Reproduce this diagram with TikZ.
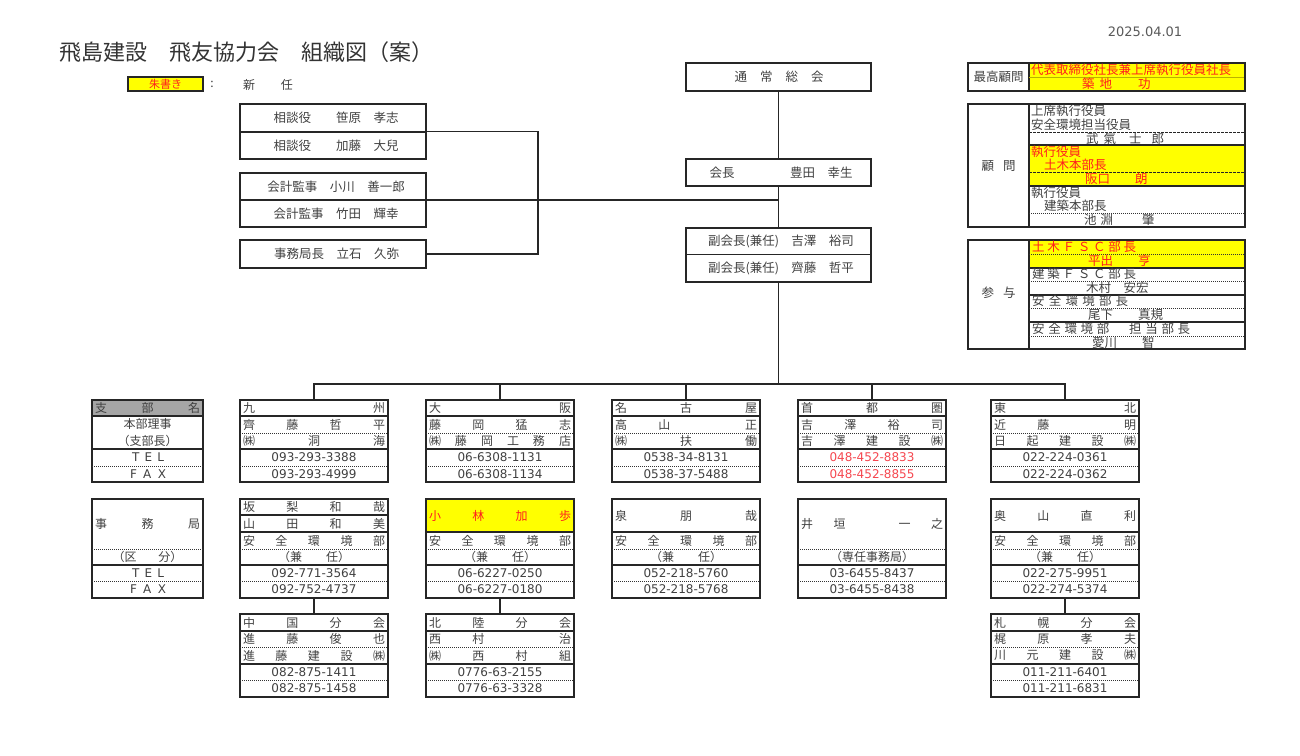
\documentclass[tikz,border=0pt]{standalone}
\usepackage{fontspec}
\setmainfont{Noto Sans CJK JP}
\newfontfamily\numfont{DejaVu Sans}
\definecolor{ink}{HTML}{404040}
\definecolor{akared}{HTML}{FF1E1E}
\definecolor{telred}{HTML}{F5474F}
\definecolor{kiiro}{HTML}{FFFF00}
\definecolor{hdgray}{HTML}{A6A6A6}
\makeatletter
\newcommand\spreadchars[2]{\hbox to #1pt{\let\spr@sep\relax\@tfor\spr@c:=#2\do{\spr@sep\spr@c\let\spr@sep\hfill}}}
\makeatother

\begin{document}
\begin{tikzpicture}[x=1pt,y=-1pt,
	boxframe/.style={draw=black!85,line width=1.5pt,inner sep=0pt,outer sep=0pt,anchor=north west},
	celltext/.style={inner sep=0pt,text=ink,font=\fontsize{12}{14}\selectfont},
	bigtext/.style={celltext,font=\fontsize{12.5}{14}\selectfont},
	telno/.style={inner sep=0pt,text=ink,font=\numfont\fontsize{12}{14}\selectfont},
	solidrule/.style={line width=1.1pt,draw=black!85},
	dotrule/.style={line width=1pt,draw=black!80,dash pattern=on 1pt off 1pt},
	dashrule/.style={line width=1pt,draw=black!85,dash pattern=on 2.5pt off 1.5pt},
	linkline/.style={line width=1.3pt,draw=black!85}]
	\useasboundingbox (0,0) rectangle (1300,755);
	%title + date
		\node[celltext,anchor=west,font=\fontsize{22}{26}\selectfont,text=black!80] (title) at (59,52) {飛島建設　飛友協力会　組織図（案）};
		\node[telno,font=\numfont\fontsize{13}{15}\selectfont,text=black!65] (date) at (1145,32) {2025.04.01};
	%legend
		\node[boxframe,fill=kiiro,line width=1.2pt,minimum width=75pt,minimum height=14pt,text=akared,font=\fontsize{11}{12}\selectfont] (legbox) at (128,77) {朱書き};
		\node[celltext] (legcolon) at (212,84) {:};
		\node[celltext] (legnew) at (268,85) {新\hspace{26pt}任};
	%advisers
		\node[boxframe,minimum width=186pt,minimum height=55pt] (sodan) at (240,104) {};
		\draw[solidrule] (240,132) -- (426,132);
		\node[bigtext] (sodan1) at (336,118) {相談役　　笹原　孝志};
		\node[bigtext] (sodan2) at (336,145.5) {相談役　　加藤　大兒};
		\node[boxframe,minimum width=186pt,minimum height=54pt] (kansa) at (240,173) {};
		\draw[solidrule] (240,200) -- (426,200);
		\node[bigtext] (kansa1) at (336,186.5) {会計監事　小川　善一郎};
		\node[bigtext] (kansa2) at (336,213.5) {会計監事　竹田　輝幸};
		\node[boxframe,minimum width=186pt,minimum height=28pt] (jimu) at (240,240) {};
		\node[bigtext] (jimu1) at (336.5,254) {事務局長　立石　久弥};
	%center column
		\node[boxframe,minimum width=185pt,minimum height=28pt] (sokai) at (686,63) {};
		\node[bigtext] (sokai1) at (779,77) {\spreadchars{89}{通常総会}};
		\node[boxframe,minimum width=185pt,minimum height=27pt] (kaicho) at (686,159) {};
		\node[bigtext] (kaicho1) at (781,172.5) {\hbox to 143pt{会長\hfill 豊田　幸生}};
		\node[boxframe,minimum width=185pt,minimum height=54pt] (fuku) at (686,228) {};
		\draw[solidrule] (686,254.5) -- (871,254.5);
		\node[bigtext] (fuku1) at (781,241) {副会長(兼任)　吉澤　裕司};
		\node[bigtext] (fuku2) at (781,268) {副会長(兼任)　齊藤　哲平};
	%top right: saiko komon
		\fill[kiiro] (1029,63) rectangle (1245,91);
		\node[boxframe,minimum width=277pt,minimum height=28pt] (saiko) at (968,63) {};
		\draw[solidrule] (1029,63) -- (1029,91);
		\draw[line width=0.6pt,olive!60!yellow] (1029,77) -- (1244,77);
		\node[bigtext] (saiko0) at (998.5,77) {最高顧問};
		\node[bigtext,anchor=west,text=akared] (saiko1) at (1031,70) {代表取締役社長兼上席執行役員社長};
		\node[bigtext,anchor=west,text=akared] (saiko2) at (1082,84) {築\hspace{5pt}地\hspace{26pt}功};
	%komon
		\fill[kiiro] (1029,145) rectangle (1245,186);
		\node[boxframe,minimum width=277pt,minimum height=123pt] (komon) at (968,104) {};
		\draw[solidrule] (1029,104) -- (1029,227) (1029,145) -- (1245,145) (1029,186) -- (1245,186);
		\draw[dashrule] (1029,132) -- (1245,132) (1029,172) -- (1245,172);
		\draw[dotrule] (1029,213) -- (1245,213);
		\node[bigtext] (komon0) at (998.5,166) {顧\hspace{9pt}問};
		\node[bigtext,anchor=west] (komon1) at (1031,111) {上席執行役員};
		\node[bigtext,anchor=west] (komon2) at (1031,124.5) {安全環境担当役員};
		\node[bigtext,anchor=west] (komon3) at (1086,138.5) {武\hspace{5pt}氣\hspace{13pt}士\hspace{10pt}郎};
		\node[bigtext,anchor=west,text=akared] (komon4) at (1031,152) {執行役員};
		\node[bigtext,anchor=west,text=akared] (komon5) at (1044,165) {土木本部長};
		\node[bigtext,anchor=west,text=akared] (komon6) at (1085,179) {阪口　　朗};
		\node[bigtext,anchor=west] (komon7) at (1031,193) {執行役員};
		\node[bigtext,anchor=west] (komon8) at (1044,206) {建築本部長};
		\node[bigtext,anchor=west] (komon9) at (1084,220) {池\hspace{4pt}淵\hspace{29pt}肇};
	%sanyo
		\fill[kiiro] (1029,240) rectangle (1245,268);
		\node[boxframe,minimum width=277pt,minimum height=109pt] (sanyo) at (968,240) {};
		\draw[solidrule] (1029,240) -- (1029,349) (1029,268) -- (1245,268) (1029,295) -- (1245,295) (1029,322) -- (1245,322);
		\draw[dotrule] (1029,254) -- (1245,254) (1029,281) -- (1245,281) (1029,308) -- (1245,308) (1029,336) -- (1245,336);
		\node[bigtext] (sanyo0) at (998.5,293) {参\hspace{9pt}与};
		\node[bigtext,anchor=west,text=akared] (sanyo1) at (1032,247) {\spreadchars{104}{土木ＦＳＣ部長}};
		\node[bigtext,anchor=west,text=akared] (sanyo2) at (1088,261) {平出　　亨};
		\node[bigtext,anchor=west] (sanyo3) at (1032,274) {\spreadchars{104}{建築ＦＳＣ部長}};
		\node[bigtext,anchor=west] (sanyo4) at (1086,288) {木村　安宏};
		\node[bigtext,anchor=west] (sanyo5) at (1032,301) {\spreadchars{96}{安全環境部長}};
		\node[bigtext,anchor=west] (sanyo6) at (1088,315) {尾下　　真規};
		\node[bigtext,anchor=west] (sanyo7) at (1032,329) {\spreadchars{158}{安全環境部　担当部長}};
		\node[bigtext,anchor=west] (sanyo8) at (1092,343) {愛川　　智};
	%legend boxes (left)
		\fill[hdgray] (92,400) rectangle (203,416);
		\node[boxframe,minimum width=111pt,minimum height=82pt] (leg1) at (92,400) {};
		\draw[solidrule] (92,416) -- (203,416) (92,449) -- (203,449);
		\draw[dotrule] (92,466) -- (203,466);
		\node[celltext] (leg1a) at (147.5,408) {\spreadchars{105}{支部名}};
		\node[celltext] (leg1b) at (147.5,424) {本部理事};
		\node[celltext] (leg1c) at (147.5,440.5) {（支部長）};
		\node[telno] (leg1d) at (148,457.5) {\spreadchars{32}{TEL}};
		\node[telno] (leg1e) at (148,474) {\spreadchars{36}{FAX}};
		\node[boxframe,minimum width=111pt,minimum height=99pt] (leg2) at (92,499) {};
		\draw[solidrule] (92,565) -- (203,565);
		\draw[dotrule] (92,549) -- (203,549) (92,581) -- (203,581);
		\node[celltext] (leg2a) at (147.5,524) {\spreadchars{105}{事務局}};
		\node[celltext] (leg2b) at (147.5,557) {（区\hspace{22pt}分）};
		\node[telno] (leg2c) at (148,573) {\spreadchars{32}{TEL}};
		\node[telno] (leg2d) at (148,589.5) {\spreadchars{36}{FAX}};
	%kyushu
		\node[boxframe,minimum width=148pt,minimum height=82pt] (kyu1) at (240,400) {};
		\draw[solidrule] (240,416) -- (388,416) (240,449) -- (388,449);
		\draw[dotrule] (240,433) -- (388,433) (240,466) -- (388,466);
		\node[celltext] (kyu1a) at (314,408) {\spreadchars{142}{九州}};
		\node[celltext] (kyu1b) at (314,424.5) {\spreadchars{142}{齊藤哲平}};
		\node[celltext] (kyu1c) at (314,441) {\spreadchars{142}{㈱洞海}};
		\node[telno] (kyu1d) at (314,457.5) {093-293-3388};
		\node[telno] (kyu1e) at (314,474) {093-293-4999};
		\node[boxframe,minimum width=148pt,minimum height=99pt] (kyu2) at (240,499) {};
		\draw[solidrule] (240,515) -- (388,515) (240,532) -- (388,532) (240,565) -- (388,565);
		\draw[dotrule] (240,549) -- (388,549) (240,581) -- (388,581);
		\node[celltext] (kyu2a) at (314,507) {\spreadchars{142}{坂梨和哉}};
		\node[celltext] (kyu2b) at (314,523.5) {\spreadchars{142}{山田和美}};
		\node[celltext] (kyu2c) at (314,540.5) {\spreadchars{142}{安全環境部}};
		\node[celltext] (kyu2d) at (314,557) {（兼　　任）};
		\node[telno] (kyu2e) at (314,573) {092-771-3564};
		\node[telno] (kyu2f) at (314,589.5) {092-752-4737};
	%osaka
		\node[boxframe,minimum width=148pt,minimum height=82pt] (osa1) at (426,400) {};
		\draw[solidrule] (426,416) -- (574,416) (426,449) -- (574,449);
		\draw[dotrule] (426,433) -- (574,433) (426,466) -- (574,466);
		\node[celltext] (osa1a) at (500,408) {\spreadchars{142}{大阪}};
		\node[celltext] (osa1b) at (500,424.5) {\spreadchars{142}{藤岡猛志}};
		\node[celltext] (osa1c) at (500,441) {\spreadchars{142}{㈱藤岡工務店}};
		\node[telno] (osa1d) at (500,457.5) {06-6308-1131};
		\node[telno] (osa1e) at (500,474) {06-6308-1134};
		\fill[kiiro] (426,499) rectangle (574,532);
		\node[boxframe,minimum width=148pt,minimum height=99pt] (osa2) at (426,499) {};
		\draw[solidrule] (426,532) -- (574,532) (426,565) -- (574,565);
		\draw[dotrule] (426,549) -- (574,549) (426,581) -- (574,581);
		\node[celltext,text=akared] (osa2a) at (500,515.5) {\spreadchars{142}{小林加歩}};
		\node[celltext] (osa2c) at (500,540.5) {\spreadchars{142}{安全環境部}};
		\node[celltext] (osa2d) at (500,557) {（兼　　任）};
		\node[telno] (osa2e) at (500,573) {06-6227-0250};
		\node[telno] (osa2f) at (500,589.5) {06-6227-0180};
	%nagoya
		\node[boxframe,minimum width=148pt,minimum height=82pt] (nag1) at (612,400) {};
		\draw[solidrule] (612,416) -- (760,416) (612,449) -- (760,449);
		\draw[dotrule] (612,433) -- (760,433) (612,466) -- (760,466);
		\node[celltext] (nag1a) at (686,408) {\spreadchars{142}{名古屋}};
		\node[celltext] (nag1b) at (686,424.5) {\spreadchars{142}{高山　正}};
		\node[celltext] (nag1c) at (686,441) {\spreadchars{142}{㈱扶働}};
		\node[telno] (nag1d) at (686,457.5) {0538-34-8131};
		\node[telno] (nag1e) at (686,474) {0538-37-5488};
		\node[boxframe,minimum width=148pt,minimum height=99pt] (nag2) at (612,499) {};
		\draw[solidrule] (612,532) -- (760,532) (612,565) -- (760,565);
		\draw[dotrule] (612,549) -- (760,549) (612,581) -- (760,581);
		\node[celltext] (nag2a) at (686,515.5) {\spreadchars{142}{泉朋哉}};
		\node[celltext] (nag2c) at (686,540.5) {\spreadchars{142}{安全環境部}};
		\node[celltext] (nag2d) at (686,557) {（兼　　任）};
		\node[telno] (nag2e) at (686,573) {052-218-5760};
		\node[telno] (nag2f) at (686,589.5) {052-218-5768};
	%shutoken
		\node[boxframe,minimum width=148pt,minimum height=82pt] (shu1) at (798,400) {};
		\draw[solidrule] (798,416) -- (946,416) (798,449) -- (946,449);
		\draw[dotrule] (798,433) -- (946,433) (798,466) -- (946,466);
		\node[celltext] (shu1a) at (872,408) {\spreadchars{142}{首都圏}};
		\node[celltext] (shu1b) at (872,424.5) {\spreadchars{142}{吉澤裕司}};
		\node[celltext] (shu1c) at (872,441) {\spreadchars{142}{吉澤建設㈱}};
		\node[telno,text=telred] (shu1d) at (872,457.5) {048-452-8833};
		\node[telno,text=telred] (shu1e) at (872,474) {048-452-8855};
		\node[boxframe,minimum width=148pt,minimum height=99pt] (shu2) at (798,499) {};
		\draw[solidrule] (798,565) -- (946,565);
		\draw[dotrule] (798,549) -- (946,549) (798,581) -- (946,581);
		\node[celltext] (shu2a) at (872,524) {\spreadchars{142}{井垣　一之}};
		\node[celltext] (shu2d) at (872,557) {（専任事務局）};
		\node[telno] (shu2e) at (872,573) {03-6455-8437};
		\node[telno] (shu2f) at (872,589.5) {03-6455-8438};
	%tohoku
		\node[boxframe,minimum width=148pt,minimum height=82pt] (toh1) at (991,400) {};
		\draw[solidrule] (991,416) -- (1139,416) (991,449) -- (1139,449);
		\draw[dotrule] (991,433) -- (1139,433) (991,466) -- (1139,466);
		\node[celltext] (toh1a) at (1065,408) {\spreadchars{142}{東北}};
		\node[celltext] (toh1b) at (1065,424.5) {\spreadchars{142}{近藤　明}};
		\node[celltext] (toh1c) at (1065,441) {\spreadchars{142}{日起建設㈱}};
		\node[telno] (toh1d) at (1065,457.5) {022-224-0361};
		\node[telno] (toh1e) at (1065,474) {022-224-0362};
		\node[boxframe,minimum width=148pt,minimum height=99pt] (toh2) at (991,499) {};
		\draw[solidrule] (991,532) -- (1139,532) (991,565) -- (1139,565);
		\draw[dotrule] (991,549) -- (1139,549) (991,581) -- (1139,581);
		\node[celltext] (toh2a) at (1065,515.5) {\spreadchars{142}{奥山直利}};
		\node[celltext] (toh2c) at (1065,540.5) {\spreadchars{142}{安全環境部}};
		\node[celltext] (toh2d) at (1065,557) {（兼　　任）};
		\node[telno] (toh2e) at (1065,573) {022-275-9951};
		\node[telno] (toh2f) at (1065,589.5) {022-274-5374};
	%sub branches
		\node[boxframe,minimum width=148pt,minimum height=83pt] (chugoku) at (240,614) {};
		\draw[solidrule] (240,631) -- (388,631) (240,664) -- (388,664);
		\draw[dotrule] (240,647) -- (388,647) (240,680) -- (388,680);
		\node[celltext] (chu1) at (314,622.5) {\spreadchars{142}{中国分会}};
		\node[celltext] (chu2) at (314,639) {\spreadchars{142}{進藤俊也}};
		\node[celltext] (chu3) at (314,655.5) {\spreadchars{142}{進藤建設㈱}};
		\node[telno] (chu4) at (314,672) {082-875-1411};
		\node[telno] (chu5) at (314,688.5) {082-875-1458};
		\node[boxframe,minimum width=148pt,minimum height=83pt] (hokuriku) at (426,614) {};
		\draw[solidrule] (426,631) -- (574,631) (426,664) -- (574,664);
		\draw[dotrule] (426,647) -- (574,647) (426,680) -- (574,680);
		\node[celltext] (hok1) at (500,622.5) {\spreadchars{142}{北陸分会}};
		\node[celltext] (hok2) at (500,639) {\spreadchars{142}{西村　治}};
		\node[celltext] (hok3) at (500,655.5) {\spreadchars{142}{㈱西村組}};
		\node[telno] (hok4) at (500,672) {0776-63-2155};
		\node[telno] (hok5) at (500,688.5) {0776-63-3328};
		\node[boxframe,minimum width=148pt,minimum height=83pt] (sapporo) at (991,614) {};
		\draw[solidrule] (991,631) -- (1139,631) (991,664) -- (1139,664);
		\draw[dotrule] (991,647) -- (1139,647) (991,680) -- (1139,680);
		\node[celltext] (sap1) at (1065,622.5) {\spreadchars{142}{札幌分会}};
		\node[celltext] (sap2) at (1065,639) {\spreadchars{142}{梶原孝夫}};
		\node[celltext] (sap3) at (1065,655.5) {\spreadchars{142}{川元建設㈱}};
		\node[telno] (sap4) at (1065,672) {011-211-6401};
		\node[telno] (sap5) at (1065,688.5) {011-211-6831};
	%connectors
		\coordinate (jn) at (538,0);
		\coordinate (busy) at (0,384);
		\coordinate (bus) at (fuku.south |- busy);
		\draw[linkline] (sodan.east) -- (sodan.east -| jn) -- (jimu.east -| jn) -- (jimu.east);
		\draw[linkline] (kansa.east) -- (kansa.east -| kaicho.south);
		\draw[linkline] (sokai.south) -- (kaicho.north);
		\draw[linkline] (kaicho.south) -- (fuku.north);
		\draw[linkline] (fuku.south) -- (bus);
		\draw[linkline] (kyu1.north) |- (bus) -| (toh1.north);
		\draw[linkline] (osa1.north) -- (osa1.north |- bus);
		\draw[linkline] (nag1.north) -- (nag1.north |- bus);
		\draw[linkline] (shu1.north) -- (shu1.north |- bus);
		\draw[linkline] (kyu2.south) -- (chugoku.north);
		\draw[linkline] (osa2.south) -- (hokuriku.north);
		\draw[linkline] (toh2.south) -- (sapporo.north);
\end{tikzpicture}
\end{document}
